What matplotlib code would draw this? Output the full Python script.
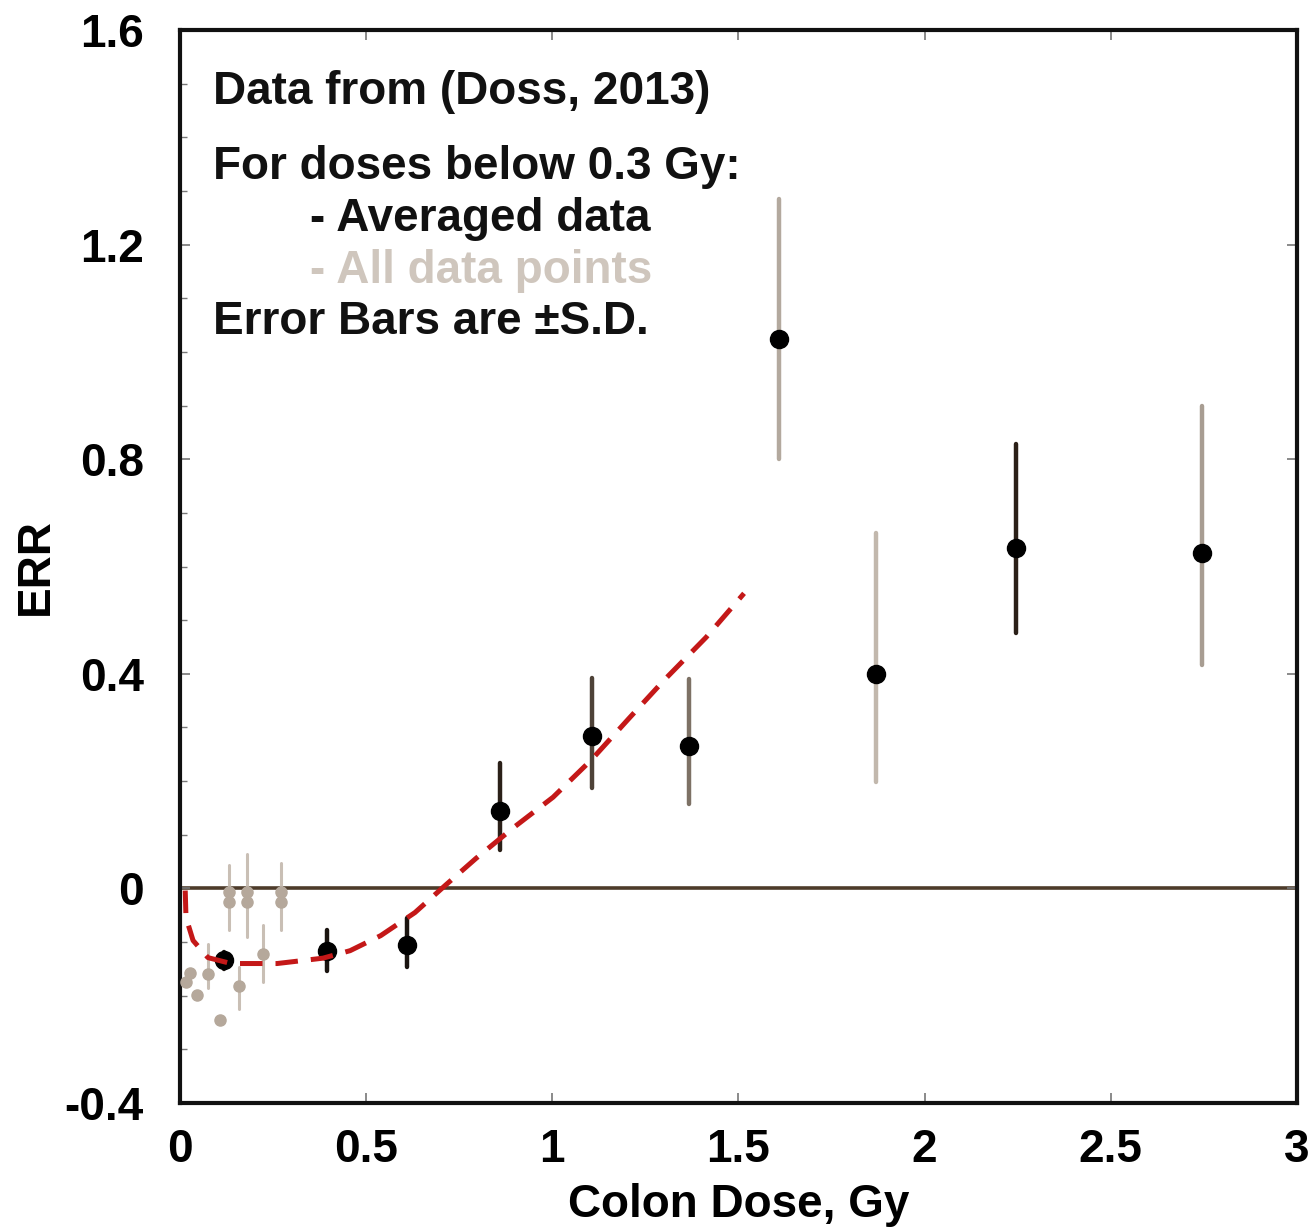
import matplotlib
matplotlib.use("Agg")
import matplotlib.pyplot as plt
from matplotlib.ticker import MultipleLocator

plt.rcParams['font.family'] = ['Liberation Sans', 'DejaVu Sans']
plt.rcParams['font.weight'] = 'bold'
plt.rcParams['axes.labelweight'] = 'bold'
plt.rcParams['axes.unicode_minus'] = False

# Averaged data (black points)
avg_dose = [0.117, 0.395, 0.610, 0.860, 1.107, 1.366, 1.609, 1.869, 2.245, 2.745]
avg_err = [-0.134, -0.116, -0.106, 0.145, 0.284, 0.265, 1.025, 0.399, 0.634, 0.626]
avg_lo = [-0.150, -0.153, -0.147, 0.071, 0.188, 0.158, 0.801, 0.198, 0.477, 0.416]
avg_hi = [-0.118, -0.078, -0.056, 0.234, 0.393, 0.391, 1.286, 0.662, 0.829, 0.900]
avg_bar_colors = ['#1a1410', '#1a1410', '#1a1410', '#2b2018', '#4e4238',
                  '#7d7165', '#b3a99e', '#c2b8ad', '#2b2018', '#a89d92']

# All data points below 0.3 Gy (grey points)
all_dose = [0.132, 0.132, 0.180, 0.180, 0.271, 0.271, 0.223, 0.158,
            0.108, 0.046, 0.075, 0.015, 0.027]
all_err = [-0.007, -0.026, -0.007, -0.026, -0.007, -0.026, -0.122, -0.181,
           -0.246, -0.199, -0.160, -0.175, -0.158]
all_lo = [-0.078, -0.026, -0.091, -0.026, -0.078, -0.026, -0.175, -0.224,
          -0.246, -0.199, -0.185, -0.175, -0.158]
all_hi = [0.043, -0.026, 0.065, -0.026, 0.047, -0.026, -0.069, -0.147,
          -0.246, -0.199, -0.103, -0.175, -0.158]

# Red dashed model curve
fit_dose = [0.014, 0.016, 0.035, 0.075, 0.137, 0.261, 0.384, 0.457, 0.539,
            0.631, 0.713, 0.795, 0.897, 1.002, 1.104, 1.206, 1.300, 1.413, 1.515]
fit_err = [-0.004, -0.054, -0.097, -0.129, -0.140, -0.140, -0.130, -0.116,
           -0.088, -0.045, 0.006, 0.056, 0.114, 0.170, 0.239, 0.317, 0.388,
           0.468, 0.550]

x_ticks = [0, 0.5, 1, 1.5, 2, 2.5, 3]
x_tick_labels = ['0', '0.5', '1', '1.5', '2', '2.5', '3']
y_ticks = [-0.4, 0, 0.4, 0.8, 1.2, 1.6]
y_tick_labels = ['-0.4', '0', '0.4', '0.8', '1.2', '1.6']

fig = plt.figure(figsize=(13.14, 12.32), dpi=100)
ax = fig.add_axes([0.137, 0.1047, 0.850, 0.8709])

ax.axhline(0, color='#4d3b2a', lw=2.6, zorder=1)

# grey all-data points
for x, y, lo, hi in zip(all_dose, all_err, all_lo, all_hi):
    if hi > lo:
        ax.plot([x, x], [lo, hi], color='#c9bfb5', lw=2.2, zorder=2,
                solid_capstyle='round')
ax.plot(all_dose, all_err, 'o', ms=8, color='#b5a89b', mec='#b5a89b', zorder=3)

# averaged data
for x, lo, hi, c in zip(avg_dose, avg_lo, avg_hi, avg_bar_colors):
    ax.plot([x, x], [lo, hi], color=c, lw=3.2, zorder=4, solid_capstyle='round')
ax.plot(avg_dose, avg_err, 'o', ms=13, color='black', zorder=5)

# model curve
ax.plot(fit_dose, fit_err, color='#c41818', lw=3.6, linestyle=(0, (4.5, 2.6)),
        zorder=6)

ax.set_xlim(0, 3)
ax.set_ylim(-0.4, 1.6)
ax.set_xticks(x_ticks)
ax.set_xticklabels(x_tick_labels)
ax.set_yticks(y_ticks)
ax.set_yticklabels(y_tick_labels)
ax.yaxis.set_minor_locator(MultipleLocator(0.1))
ax.tick_params(axis='both', which='major', direction='in', length=7, width=1.2,
               color='#777777', labelsize=33, top=True, right=True)
ax.tick_params(axis='x', pad=18)
ax.tick_params(axis='y', pad=26)
ax.tick_params(axis='y', which='minor', direction='in', length=5, width=1.0,
               color='#777777', right=False)

for s in ax.spines.values():
    s.set_linewidth(3.0)
    s.set_color('#111111')

ax.set_xlabel('Colon Dose, Gy', fontsize=33, labelpad=8)
ax.set_ylabel('ERR', fontsize=33)
ax.yaxis.set_label_coords(-0.109, 0.5)

fs = 33
ax.text(0.089, 1.462, 'Data from (Doss, 2013)', fontsize=fs, va='baseline',
        color='#111111')
ax.text(0.089, 1.322, 'For doses below 0.3 Gy:', fontsize=fs, va='baseline',
        color='#111111')
ax.text(0.350, 1.225, '- Averaged data', fontsize=fs, va='baseline',
        color='#111111')
ax.text(0.350, 1.128, '- All data points', fontsize=fs, va='baseline',
        color='#cfc6bd')
ax.text(0.089, 1.033, 'Error Bars are \u00b1S.D.', fontsize=fs, va='baseline',
        color='#111111')

fig.savefig('out.png', dpi=100)
